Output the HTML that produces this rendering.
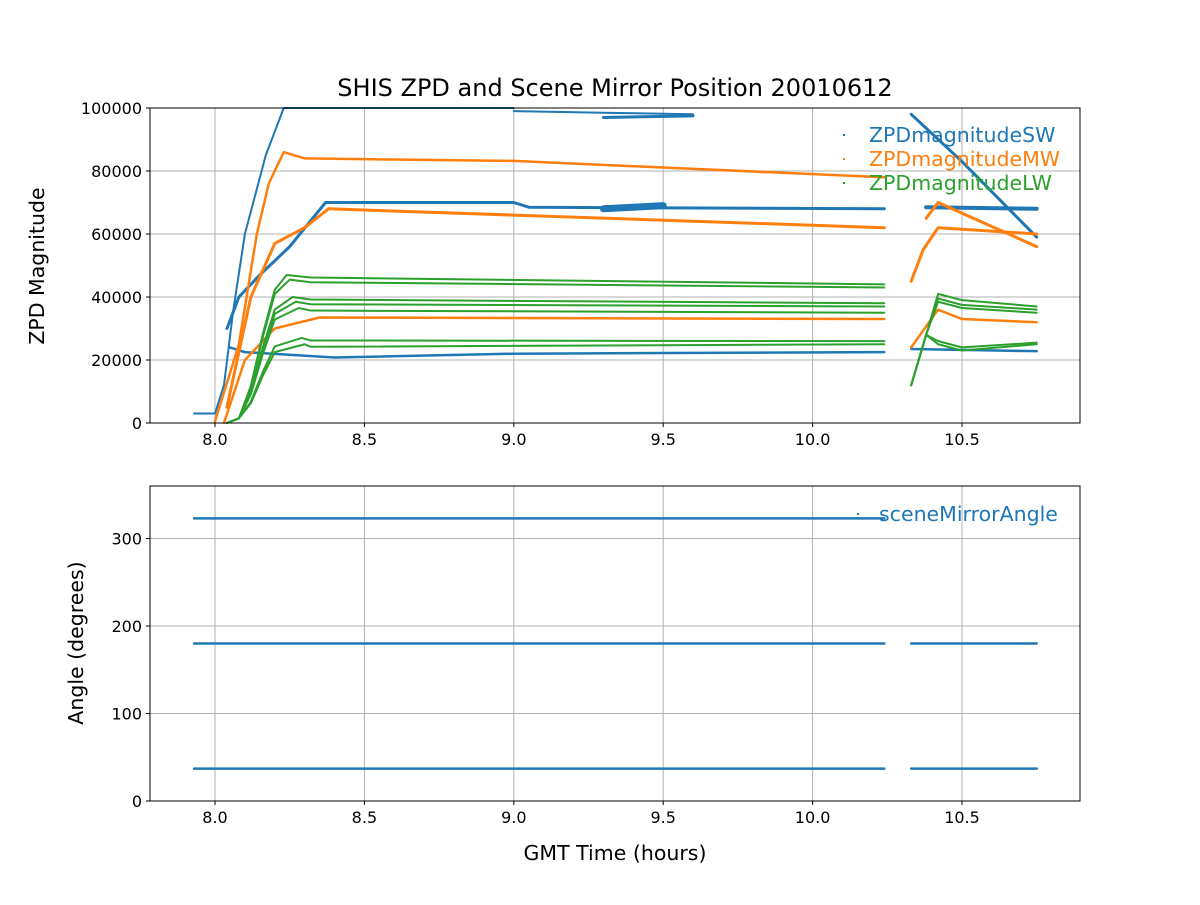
<!DOCTYPE html>
<html><head><meta charset="utf-8"><style>
body{margin:0;background:#fff}
svg text{font-family:"DejaVu Sans","Liberation Sans",sans-serif}
</style></head><body>
<svg id="s" width="1200" height="900" xmlns="http://www.w3.org/2000/svg">
<rect width="1200" height="900" fill="#fff"/>
<g id="grid" stroke="#b0b0b0" stroke-width="1"></g>
<g id="data" fill="none" stroke-linejoin="round" stroke-linecap="round"></g>
<rect x="150" y="108" width="930" height="315" fill="none" stroke="#000" stroke-width="1"/>
<rect x="150" y="486" width="930" height="315" fill="none" stroke="#000" stroke-width="1"/>
<g id="ticks" font-size="16" fill="#000"></g>
<text x="615" y="96" font-size="24" text-anchor="middle">SHIS ZPD and Scene Mirror Position 20010612</text>
<text x="615" y="860" font-size="20.5" text-anchor="middle">GMT Time (hours)</text>
<text transform="translate(44,266) rotate(-90)" font-size="20.5" text-anchor="middle">ZPD Magnitude</text>
<text transform="translate(83,643) rotate(-90)" font-size="20.5" text-anchor="middle">Angle (degrees)</text>
<g font-size="20.5">
<rect x="843" y="134" width="2" height="2" fill="#1f77b4"/><text x="869" y="142" fill="#1f77b4">ZPDmagnitudeSW</text>
<rect x="843" y="158" width="2" height="2" fill="#ff7f0e"/><text x="869" y="166" fill="#ff7f0e">ZPDmagnitudeMW</text>
<rect x="843" y="182" width="2" height="2" fill="#2ca02c"/><text x="869" y="190" fill="#2ca02c">ZPDmagnitudeLW</text>
<rect x="857" y="513" width="2" height="2" fill="#1f77b4"/><text x="879" y="521" fill="#1f77b4">sceneMirrorAngle</text>
</g>
</svg>
<script>
const NS="http://www.w3.org/2000/svg";
const X=t=>215+(t-8)*298.8, YT=v=>423-v*315/100000, YB=v=>801-v*0.875;
const g=document.getElementById('grid'),tk=document.getElementById('ticks'),d=document.getElementById('data');
function el(p,tag,a,txt){const e=document.createElementNS(NS,tag);for(const k in a)e.setAttribute(k,a[k]);if(txt)e.textContent=txt;p.appendChild(e);return e;}
for(const t of [8,8.5,9,9.5,10,10.5]){const x=X(t);
 el(g,'line',{x1:x,x2:x,y1:108,y2:423});el(g,'line',{x1:x,x2:x,y1:486,y2:801});
 el(tk,'line',{x1:x,x2:x,y1:423,y2:427,stroke:'#000'});el(tk,'line',{x1:x,x2:x,y1:801,y2:805,stroke:'#000'});
 el(tk,'text',{x:x,y:445,'text-anchor':'middle'},t.toFixed(1));el(tk,'text',{x:x,y:823,'text-anchor':'middle'},t.toFixed(1));}
for(let v=0;v<=100000;v+=20000){const y=YT(v);el(g,'line',{x1:150,x2:1080,y1:y,y2:y});
 el(tk,'line',{x1:146,x2:150,y1:y,y2:y,stroke:'#000'});el(tk,'text',{x:142,y:y+6,'text-anchor':'end'},String(v));}
for(let v=0;v<=300;v+=100){const y=YB(v);el(g,'line',{x1:150,x2:1080,y1:y,y2:y});
 el(tk,'line',{x1:146,x2:150,y1:y,y2:y,stroke:'#000'});el(tk,'text',{x:142,y:y+6,'text-anchor':'end'},String(v));}
const C={b:'#1f77b4',o:'#ff7f0e',g:'#2ca02c'};
function L(c,pts,w){el(d,'polyline',{stroke:C[c],'stroke-width':w||2.5,points:pts.map(p=>X(p[0])+','+YT(p[1])).join(' ')});}
// blue
L('b',[[7.93,3000],[8.0,3000],[8.03,12000],[8.06,35000],[8.1,60000],[8.17,85000],[8.23,100000],[9.0,100000]],2);
L('b',[[9.0,99000],[9.3,98500],[9.6,98000]],2);
L('b',[[9.3,97000],[9.6,97500]],3);
L('b',[[10.33,98000],[10.5,83000],[10.75,59000]],3);
L('b',[[8.04,30000],[8.08,40000],[8.15,47000],[8.25,56000],[8.37,70000],[9.0,70000],[9.05,68500],[10.24,68000]],3);
L('b',[[9.3,68000],[9.5,69000]],7);
L('b',[[10.38,68500],[10.75,68000]],4);
L('b',[[8.05,24000],[8.1,22500],[8.4,20800],[9.0,22000],[10.24,22500]],2.5);
L('b',[[10.33,23500],[10.75,22800]],2.5);
// orange
L('o',[[8.0,500],[8.08,25000],[8.14,60000],[8.18,76000],[8.23,86000],[8.3,84000],[9.0,83200],[10.24,78000]],2.5);
L('o',[[8.04,5000],[8.12,40000],[8.2,57000],[8.3,62000],[8.38,68000],[9.0,66000],[10.24,62000]],3);
L('o',[[8.03,0],[8.1,20000],[8.2,30000],[8.35,33500],[10.24,33000]],2.5);
L('o',[[10.33,45000],[10.37,55000],[10.42,62000],[10.75,60000]],3);
L('o',[[10.38,65000],[10.42,70000],[10.75,56000]],3);
L('o',[[10.33,24000],[10.42,36000],[10.5,33000],[10.75,32000]],2.5);
// green
const gl=[[47000,44000],[45500,43000],[40000,38000],[38500,37000],[36500,35000],[27000,26000],[25000,25000]];
gl.forEach((v,i)=>L('g',[[8.04,0],[8.08,1500],[8.12,v[0]*0.25],[8.16,v[0]*0.6],[8.2,v[0]*0.9],[8.24+i*0.01,v[0]],[8.32,v[0]-800],[10.24,v[1]]],2));
[[41000,37000],[39500,36000],[38500,35000],[26000,25500],[25000,25000]].forEach(v=>L('g',[[10.33,12000],[10.38,28000],[10.42,v[0]],[10.5,v[0]-2000],[10.75,v[1]]],2));
// bottom
for(const a of [323,180,37]){for(const seg of (a==323?[[7.93,10.24]]:[[7.93,10.24],[10.33,10.75]]))
 el(d,'line',{x1:X(seg[0]),x2:X(seg[1]),y1:YB(a),y2:YB(a),stroke:C.b,'stroke-width':2.5});}
</script>
</body></html>
